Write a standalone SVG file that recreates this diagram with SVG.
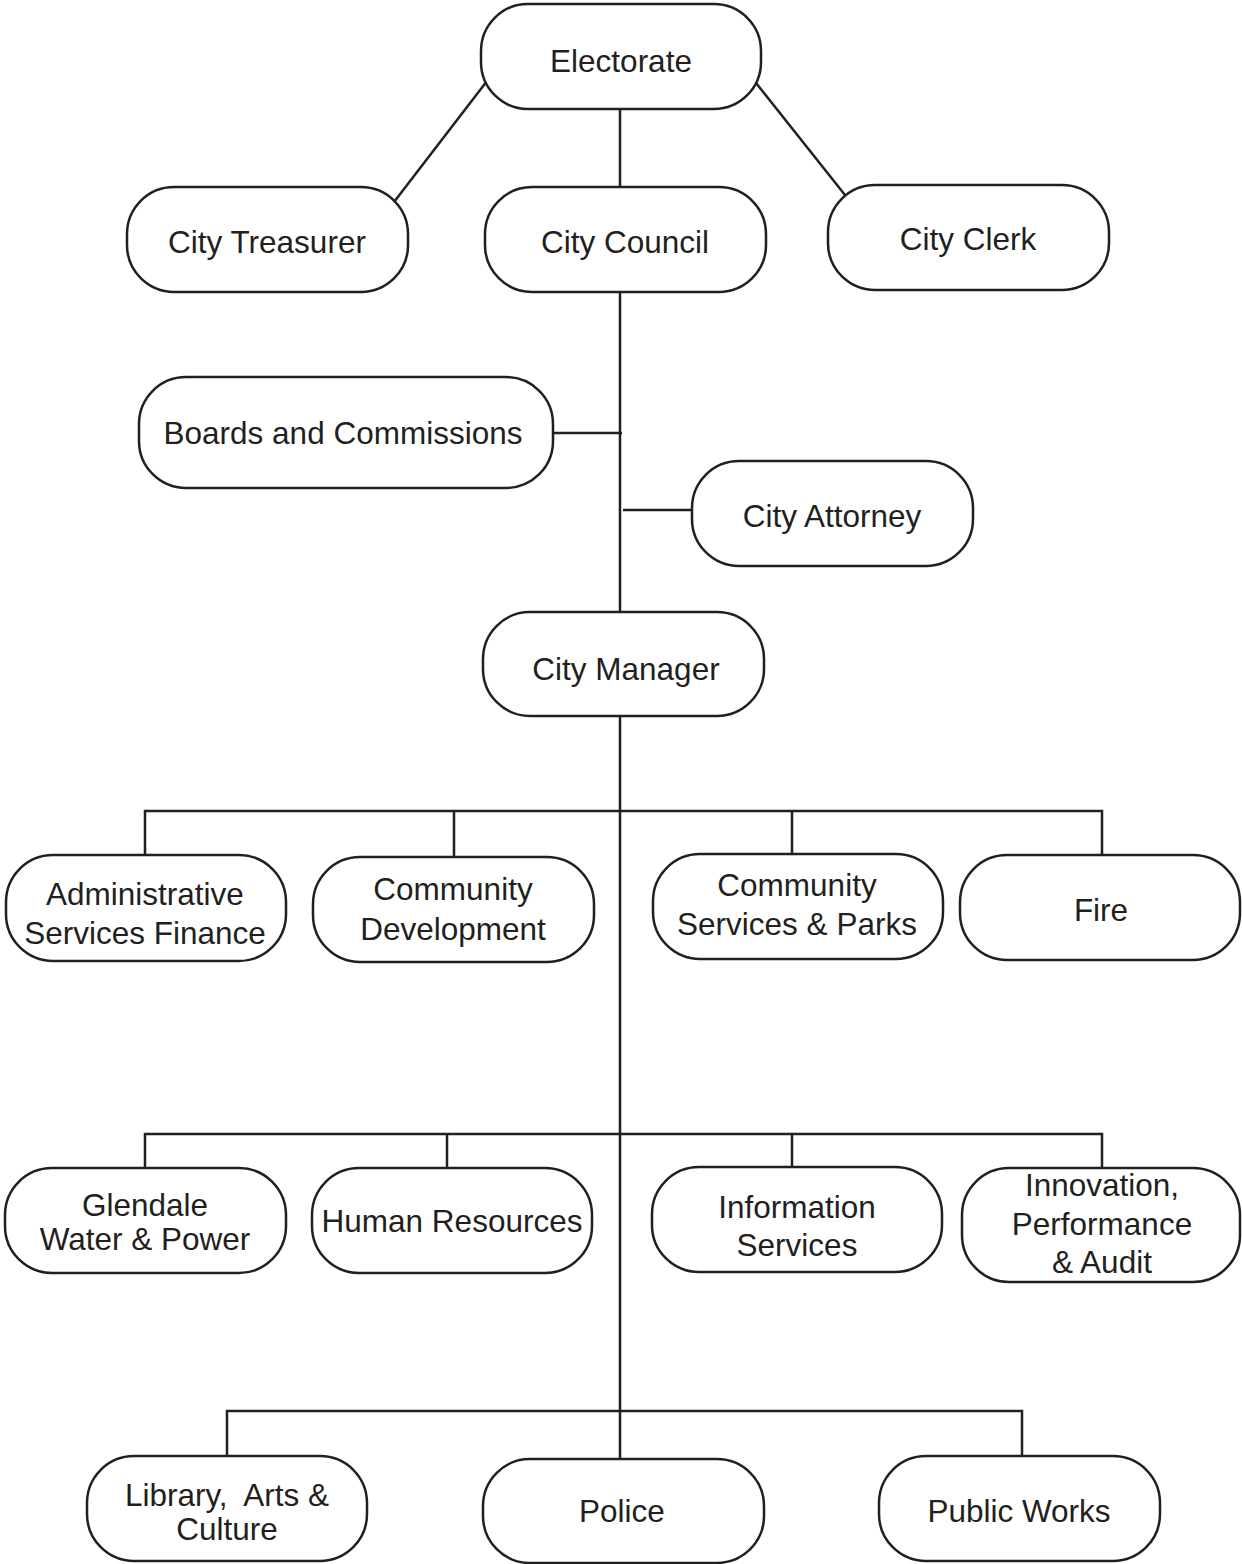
<svg xmlns="http://www.w3.org/2000/svg" width="1242" height="1564" viewBox="0 0 1242 1564">
<style>
.n{fill:#fff;stroke:#231f20;stroke-width:2.5}
.t{font-family:"Liberation Sans",Arial,sans-serif;font-size:31.5px;fill:#231f20;text-anchor:middle}
.c{stroke:#231f20;stroke-width:2.5;fill:none}
</style>
<rect width="1242" height="1564" fill="#fff"/>
<g id="connectors">
<line class="c" x1="487" y1="81" x2="394" y2="202"/>
<line class="c" x1="756" y1="83" x2="845" y2="195"/>
<line class="c" x1="620" y1="109" x2="620" y2="187"/>
<line class="c" x1="620" y1="292" x2="620" y2="612"/>
<line class="c" x1="553" y1="433" x2="622" y2="433"/>
<line class="c" x1="623" y1="510" x2="692" y2="510"/>
<line class="c" x1="620" y1="716" x2="620" y2="1459"/>
<polyline class="c" points="145,855 145,811 1102,811 1102,855"/>
<line class="c" x1="454" y1="811" x2="454" y2="857"/>
<line class="c" x1="792" y1="811" x2="792" y2="854"/>
<polyline class="c" points="145,1168 145,1134 1102,1134 1102,1168"/>
<line class="c" x1="447" y1="1134" x2="447" y2="1168"/>
<line class="c" x1="792" y1="1134" x2="792" y2="1167"/>
<polyline class="c" points="227,1456 227,1411 1022,1411 1022,1456"/>
</g>
<g id="electorate"><rect class="n" x="481" y="4" width="280" height="105" rx="47"/><text class="t" x="621" y="72">Electorate</text></g>
<g id="city-treasurer"><rect class="n" x="127" y="187" width="281" height="105" rx="47"/><text class="t" x="267" y="253">City Treasurer</text></g>
<g id="city-council"><rect class="n" x="485" y="187" width="281" height="105" rx="47"/><text class="t" x="625" y="253">City Council</text></g>
<g id="city-clerk"><rect class="n" x="828" y="185" width="281" height="105" rx="47"/><text class="t" x="968" y="250">City Clerk</text></g>
<g id="boards"><rect class="n" x="139" y="377" width="414" height="111" rx="47"/><text class="t" x="343" y="444">Boards and Commissions</text></g>
<g id="city-attorney"><rect class="n" x="692" y="461" width="281" height="105" rx="47"/><text class="t" x="832" y="527">City Attorney</text></g>
<g id="city-manager"><rect class="n" x="483" y="612" width="281" height="104" rx="47"/><text class="t" x="626" y="680">City Manager</text></g>
<g id="admin"><rect class="n" x="6" y="855" width="280" height="106" rx="47"/><text class="t" x="145" y="905">Administrative</text><text class="t" x="145" y="944">Services Finance</text></g>
<g id="community-development"><rect class="n" x="313" y="857" width="281" height="105" rx="47"/><text class="t" x="453" y="900">Community</text><text class="t" x="453" y="940">Development</text></g>
<g id="community-services"><rect class="n" x="653" y="854" width="290" height="105" rx="47"/><text class="t" x="797" y="896">Community</text><text class="t" x="797" y="935">Services &amp; Parks</text></g>
<g id="fire"><rect class="n" x="960" y="855" width="280" height="105" rx="47"/><text class="t" x="1101" y="921">Fire</text></g>
<g id="gwp"><rect class="n" x="5" y="1168" width="281" height="105" rx="47"/><text class="t" x="145" y="1216">Glendale</text><text class="t" x="145" y="1250">Water &amp; Power</text></g>
<g id="hr"><rect class="n" x="312" y="1168" width="280" height="105" rx="47"/><text class="t" x="452" y="1232">Human Resources</text></g>
<g id="info"><rect class="n" x="652" y="1167" width="290" height="105" rx="47"/><text class="t" x="797" y="1218">Information</text><text class="t" x="797" y="1256">Services</text></g>
<g id="innovation"><rect class="n" x="962" y="1168" width="278" height="114" rx="47"/><text class="t" x="1102" y="1196">Innovation,</text><text class="t" x="1102" y="1235">Performance</text><text class="t" x="1102" y="1273">&amp; Audit</text></g>
<g id="library"><rect class="n" x="87" y="1456" width="280" height="105" rx="47"/><text class="t" x="227" y="1506" xml:space="preserve">Library,  Arts &amp;</text><text class="t" x="227" y="1540">Culture</text></g>
<g id="police"><rect class="n" x="483" y="1459" width="281" height="104" rx="47"/><text class="t" x="622" y="1522">Police</text></g>
<g id="public-works"><rect class="n" x="879" y="1456" width="281" height="105" rx="47"/><text class="t" x="1019" y="1522">Public Works</text></g>
</svg>
